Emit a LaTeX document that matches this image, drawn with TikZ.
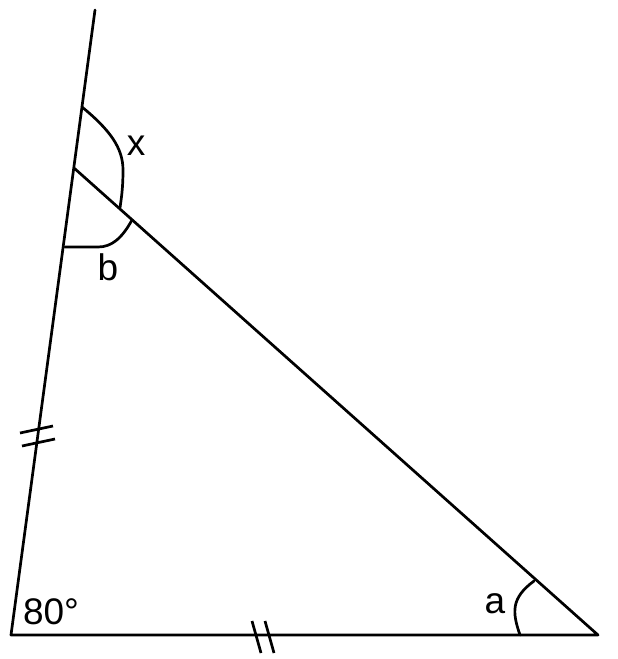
\documentclass[tikz,border=0pt]{standalone}
\usepackage{fontspec}
\setmainfont{Liberation Sans}
\begin{document}
\begin{tikzpicture}[x=1pt,y=-1pt,
  edge/.style={line width=2.7pt,line cap=round,line join=round},
  tickmk/.style={line width=2.7pt},
  lbl/.style={font=\fontsize{37}{42}\selectfont,inner sep=0pt}]
\useasboundingbox (0,0) rectangle (618,659);
\coordinate (A) at (11,635);
\coordinate (B) at (598,635);
\coordinate (C) at (74,168);
\coordinate (T) at (95,10);
\draw[edge] (T) -- (A) -- (B) -- (C);
% angle arcs
\draw[edge] (82,107) .. controls (110,130) and (123,148) .. (123,170) .. controls (123,190) and (121,200) .. (120,208);
\draw[edge] (65,247) -- (98,247) .. controls (112,247) and (122,238) .. (132,220);
\draw[edge] (520,635) .. controls (512,612) and (511,598) .. (534,581);
% tick marks
\draw[tickmk] (20,433) -- (53,426);
\draw[tickmk] (22,446) -- (55,439);
\draw[tickmk] (252,621) -- (261,653);
\draw[tickmk] (265,621) -- (274,653);
% labels
\node[lbl] (lx) at (136,146) {x};
\node[lbl] (lb) at (108,267) {b};
\node[lbl] (la) at (495,604) {a};
\node[lbl] (l80) at (51,612) {80°};
\end{tikzpicture}
\end{document}
